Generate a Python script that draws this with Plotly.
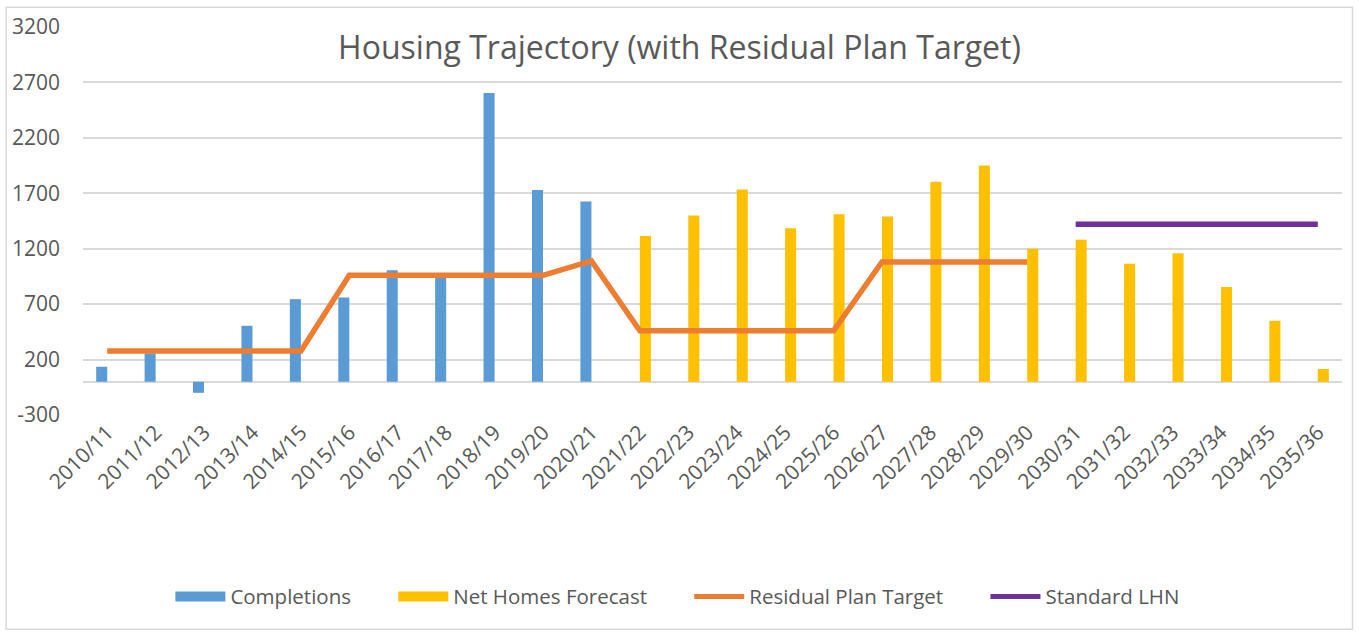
import plotly.graph_objects as go

years = ["2010/11", "2011/12", "2012/13", "2013/14", "2014/15", "2015/16", "2016/17",
         "2017/18", "2018/19", "2019/20", "2020/21", "2021/22", "2022/23", "2023/24",
         "2024/25", "2025/26", "2026/27", "2027/28", "2028/29", "2029/30", "2030/31",
         "2031/32", "2032/33", "2033/34", "2034/35", "2035/36"]

completions_years = years[:11]
completions = [135, 255, -100, 505, 745, 760, 1005, 950, 2605, 1730, 1625]

forecast_years = years[11:]
net_homes_forecast = [1315, 1500, 1735, 1385, 1510, 1490, 1805, 1950, 1200, 1280,
                      1065, 1160, 855, 550, 115]

residual_years = years[:20]
residual_plan_target = [277, 277, 277, 277, 277, 960, 960, 960, 960, 960, 1090,
                        460, 460, 460, 460, 460, 1080, 1080, 1080, 1080]

lhn_years = years[20:]
standard_lhn = [1420, 1420, 1420, 1420, 1420, 1420]

y_ticks = [-300, 200, 700, 1200, 1700, 2200, 2700, 3200]

BLUE = "#5B9BD5"
GOLD = "#FFC000"
ORANGE = "#ED7D31"
PURPLE = "#7030A0"
TEXT = "#595959"
GRID = "#D9D9D9"
FONT = "Open Sans"
BAR_W = 0.228
PAD = "\u00a0" * 7

fig = go.Figure()
fig.add_trace(go.Bar(x=completions_years, y=completions, name="Completions",
                     width=BAR_W, offset=-BAR_W,
                     marker=dict(color=BLUE, line=dict(width=0)), showlegend=False))
fig.add_trace(go.Bar(x=forecast_years, y=net_homes_forecast, name="Net Homes Forecast",
                     width=BAR_W, offset=0,
                     marker=dict(color=GOLD, line=dict(width=0)), showlegend=False))
fig.add_trace(go.Scatter(x=residual_years, y=residual_plan_target, mode="lines",
                         name="Residual Plan Target", showlegend=False,
                         line=dict(color=ORANGE, width=5.5)))
fig.add_trace(go.Scatter(x=lhn_years, y=standard_lhn, mode="lines",
                         name="Standard LHN", showlegend=False,
                         line=dict(color=PURPLE, width=5.5)))

# legend entries
for name, color, w in [("Completions" + PAD, BLUE, 14),
                       ("Net Homes Forecast" + PAD, GOLD, 14),
                       ("Residual Plan Target" + PAD, ORANGE, 5),
                       ("Standard LHN", PURPLE, 5)]:
    fig.add_trace(go.Scatter(x=[None], y=[None], mode="lines", name=name,
                             line=dict(color=color, width=w)))

fig.update_layout(
    width=1359, height=634,
    paper_bgcolor="white", plot_bgcolor="white",
    margin=dict(l=81, r=17, t=24, b=219),
    barmode="group",
    font=dict(family=FONT, color=TEXT, size=21),
    title=dict(text="Housing Trajectory (with Residual Plan Target)",
               x=0.5, xref="container", xanchor="center",
               y=1 - 48 / 634, yref="container", yanchor="middle",
               font=dict(family=FONT, size=32, color=TEXT)),
    showlegend=True,
    legend=dict(orientation="h", x=0.4725, xanchor="center", y=-0.468, yanchor="middle",
                font=dict(family=FONT, size=20.5, color=TEXT), itemwidth=50,
                bgcolor="rgba(0,0,0,0)"),
    xaxis=dict(type="category", categoryorder="array", categoryarray=years,
               tickangle=-45, tickfont=dict(family=FONT, size=21, color=TEXT),
               showgrid=False, showline=False, ticks="", range=[-0.5, 25.5]),
    yaxis=dict(range=[-300, 3200], tickvals=y_ticks, ticktext=[str(v) for v in y_ticks],
               showgrid=True, gridcolor=GRID, gridwidth=1.5,
               zeroline=True, zerolinecolor=GRID, zerolinewidth=1.5,
               showline=False, ticks="", ticklabelstandoff=22,
               tickfont=dict(family=FONT, size=21, color=TEXT)),
)

fig.add_shape(type="rect", xref="paper", yref="paper",
              x0=(4 - 81) / 1261, x1=(1352.5 - 81) / 1261,
              y0=(415 - 631) / 391, y1=(415 - 4) / 391,
              line=dict(color=GRID, width=1.5), fillcolor="rgba(0,0,0,0)", layer="below")

fig.write_html("out.html", config={"displayModeBar": False},
               post_script="document.body.style.margin='0px';")
